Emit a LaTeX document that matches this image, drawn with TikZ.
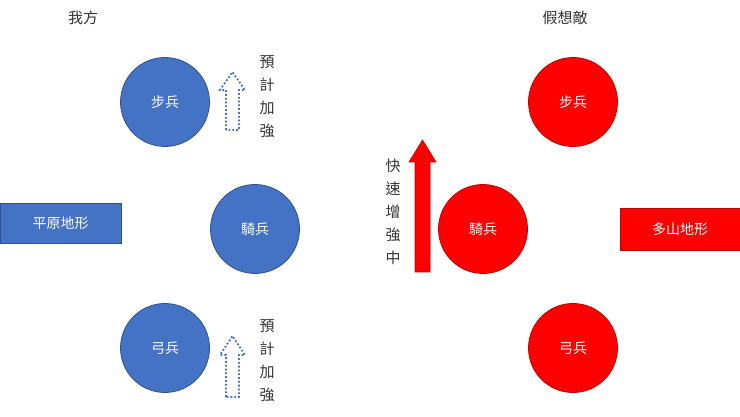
\documentclass[tikz,border=0pt]{standalone}
\usepackage{fontspec}
\setmainfont{Noto Sans CJK TC}
\definecolor{bl}{HTML}{4472C4}
\definecolor{bld}{HTML}{2F528F}
\definecolor{rd}{HTML}{FF0000}
\definecolor{rdd}{HTML}{C00000}
\begin{document}
\begin{tikzpicture}[x=1pt,y=-1pt,
 bc/.style={circle,fill=bl,draw=bld,line width=0.8pt,minimum size=89pt,text=white,font=\fontsize{14}{16}\selectfont},
 rc/.style={circle,fill=rd,draw=rdd,line width=0.8pt,minimum size=89pt,text=white,font=\fontsize{14}{16}\selectfont},
 lbl/.style={font=\fontsize{15}{17}\selectfont,text=black!80},
 vt/.style={lbl,align=center,font=\fontsize{15}{23}\selectfont}]
\useasboundingbox (0,0) rectangle (740,417);
\node[lbl] (t1) at (83,18) {我方};
\node[lbl] (t2) at (565,18) {假想敵};
\node[bc] (b1) at (165,102) {步兵};
\node[bc] (b2) at (255,229) {騎兵};
\node[bc] (b3) at (165,348) {弓兵};
\node[rc] (r1) at (573,102) {步兵};
\node[rc] (r2) at (483,229) {騎兵};
\node[rc] (r3) at (573,348) {弓兵};
\node[draw=bld,fill=bl,minimum width=121pt,minimum height=40pt,text=white,font=\fontsize{14}{16}\selectfont,anchor=north west] (p) at (0,203) {平原地形};
\node[draw=rdd,fill=rd,minimum width=120pt,minimum height=42pt,text=white,font=\fontsize{14}{16}\selectfont,anchor=north west] (m) at (620,208) {多山地形};
\draw[bl,line width=1.8pt,dotted] (226,130) -- (226,90) -- (220,90) -- (232.5,72) -- (245,90) -- (239,90) -- (239,130) -- cycle;
\draw[bl,line width=1.8pt,dotted] (226,397) -- (226,355) -- (220,355) -- (232.5,336) -- (245,355) -- (239,355) -- (239,397) -- cycle;
\node[vt] (e1) at (267,97) {預\\計\\加\\強};
\node[vt] (e2) at (267,361) {預\\計\\加\\強};
\fill[rd,draw=rdd,line width=0.6pt] (415,272) -- (415,162) -- (409,162) -- (422.5,140) -- (436,162) -- (430,162) -- (430,272) -- cycle;
\node[vt] (f) at (393,212) {快\\速\\增\\強\\中};
\end{tikzpicture}
\end{document}
